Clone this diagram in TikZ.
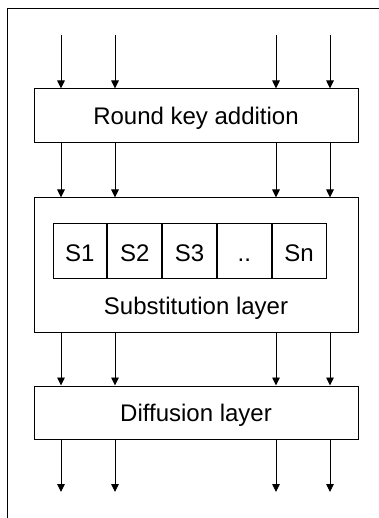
\documentclass[tikz,border=0pt]{standalone}
\usepackage{fontspec}
\setmainfont{Liberation Sans}
\usetikzlibrary{arrows.meta}
\begin{document}
\begin{tikzpicture}[x=1pt,y=-1pt,
  label text/.style={font=\fontsize{24}{28}\selectfont,text depth=0pt},
  layer/.style={draw,line width=1pt,minimum width=324pt,inner sep=0pt,
    label text,text height=18pt},
  sbox/.style={draw,line width=1pt,minimum width=53.8pt,minimum height=54pt,
    inner sep=0pt,label text,text height=21pt},
  wire/.style={line width=0.9pt,-{Triangle[width=7.5pt,length=8pt]}},
  frameline/.style={line width=1.4pt}]
\useasboundingbox (0,0) rectangle (379,518);

% outer frame: top and left edges only
\coordinate (fcorner) at (7.5,8.5);
\coordinate (fright) at (380,8.5);
\coordinate (fbottom) at (7.5,519);
\draw[frameline] (fright) -- (fcorner) -- (fbottom);

% layers
\node[layer,minimum height=54pt] (rk) at (196,116) {Round key addition};
\node[layer,minimum height=134pt] (sub) at (196,265) {};
\node[layer,minimum height=53pt] (diff) at (196,412.5) {Diffusion layer};

% S-boxes inside the substitution layer
\node[sbox] (s1) at (79.9,251) {S1};
\node[sbox,anchor=west] (s2) at (s1.east) {S2};
\node[sbox,anchor=west] (s3) at (s2.east) {S3};
\node[sbox,anchor=west] (sd) at (s3.east) {..};
\node[sbox,anchor=west] (sn) at (sd.east) {Sn};
\node[label text,text height=17pt,inner sep=0pt] (sublabel) at (196,305.5) {Substitution layer};

% wire columns
\foreach \i/\x in {1/61,2/115,3/276,4/330}{
  \coordinate (in\i) at (\x,35);
  \coordinate (out\i) at (\x,492);
  \draw[wire] (in\i) -- (rk.north -| in\i);
  \draw[wire] (rk.south -| in\i) -- (sub.north -| in\i);
  \draw[wire] (sub.south -| in\i) -- (diff.north -| in\i);
  \draw[wire] (diff.south -| in\i) -- (out\i);
}
\end{tikzpicture}
\end{document}
